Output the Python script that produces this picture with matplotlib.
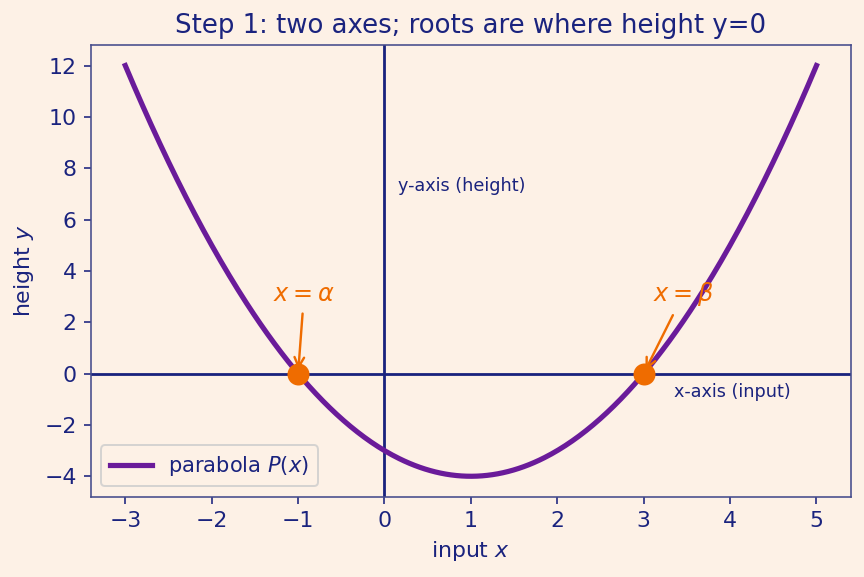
import numpy as np
import matplotlib.pyplot as plt

BG = "#fdf1e6"
NAVY = "#1a237e"
PURPLE = "#6a1b9a"
ORANGE = "#ef6c00"

# P(x) = (x - alpha)(x - beta), coefficients high -> low
coeffs = [1, -2, -3]
x_range = [-3, 5]
roots = [-1, 3]
root_labels = [r"$x=\alpha$", r"$x=\beta$"]
root_offsets = [(3, 40), (20, 40)]

plt.rcParams['text.color'] = NAVY
plt.rcParams['axes.labelcolor'] = NAVY
plt.rcParams['xtick.color'] = NAVY
plt.rcParams['ytick.color'] = NAVY

fig, ax = plt.subplots(figsize=(6, 4.007), dpi=144)
fig.patch.set_facecolor(BG)
ax.set_facecolor(BG)

xs = np.linspace(x_range[0], x_range[1], 400)
ys = np.polyval(coeffs, xs)

ax.axhline(0, color=NAVY, lw=1.4, zorder=1)
ax.axvline(0, color=NAVY, lw=1.4, zorder=1)
ax.plot(xs, ys, color=PURPLE, lw=2.6, label=r"parabola $P(x)$", zorder=2)
ax.plot(roots, np.polyval(coeffs, roots), 'o', color=ORANGE, ms=10, zorder=3)

for r, lab, off in zip(roots, root_labels, root_offsets):
    ax.annotate(lab, xy=(r, 0), xytext=off, textcoords="offset points",
                ha="center", va="center", color=ORANGE, fontsize=12,
                arrowprops=dict(arrowstyle="->", color=ORANGE, lw=1.2))

ax.text(0.16, 7.3, "y-axis (height)", fontsize=8.8, va="center", ha="left")
ax.text(3.35, -0.7, "x-axis (input)", fontsize=8.8, va="center", ha="left")

ax.set_title("Step 1: two axes; roots are where height y=0", fontsize=13, color=NAVY)
ax.set_xlabel(r"input $x$", fontsize=11)
ax.set_ylabel(r"height $y$", fontsize=11)
ax.tick_params(labelsize=11)
for s in ax.spines.values():
    s.set_color("#454c8c")
ax.legend(loc="lower left", fontsize=10.5, facecolor=BG)

fig.subplots_adjust(left=0.105, right=0.985, top=0.922, bottom=0.139)
fig.savefig("out.png", facecolor=BG)
